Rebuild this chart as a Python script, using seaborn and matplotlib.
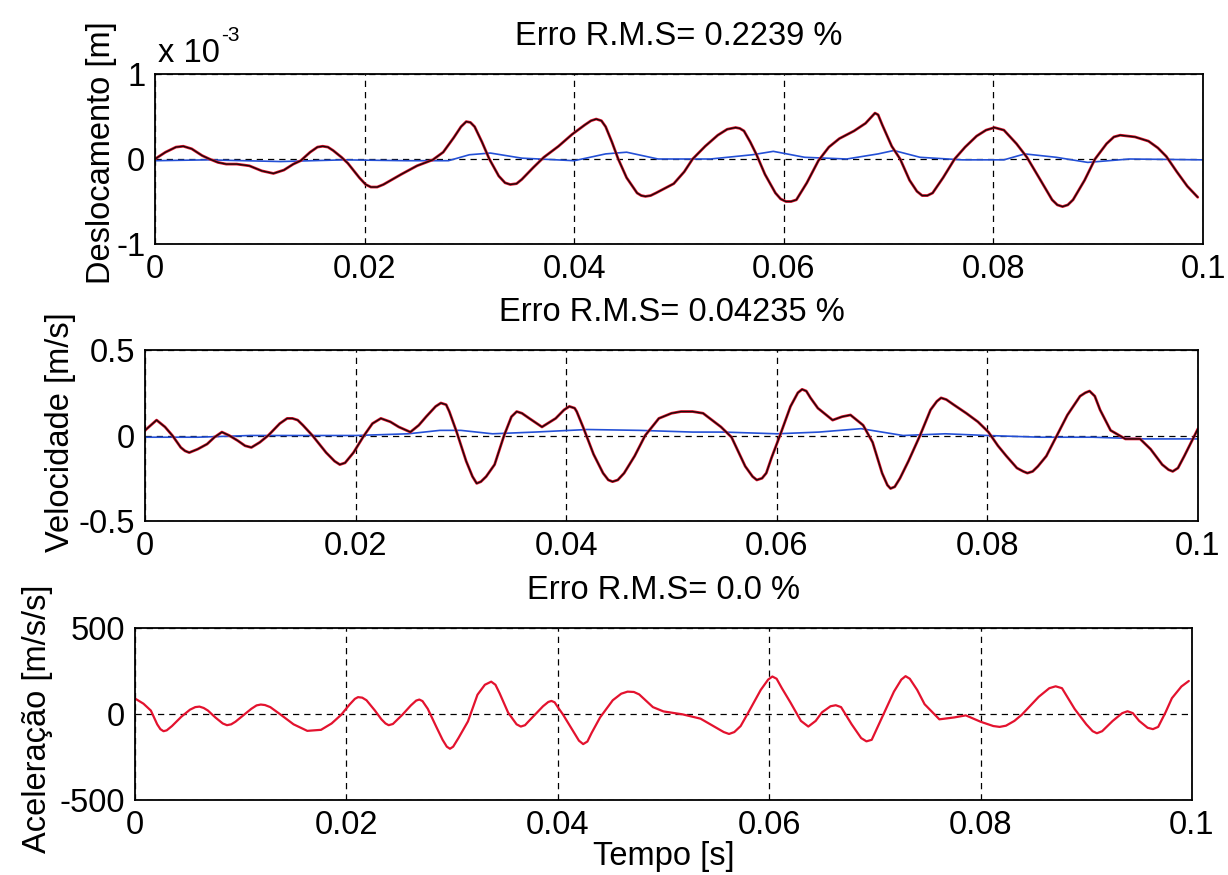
import numpy as np
import pandas as pd
import matplotlib
matplotlib.use("Agg")
import matplotlib.pyplot as plt
import seaborn as sns

# ---------------- data ----------------
# Displacement (units of 1e-3 m) -- reference (red) and estimate (black)
t_disp = [0.0000, 0.0010, 0.0020, 0.0027, 0.0035, 0.0045, 0.0052, 0.0060, 0.0068, 0.0078,
          0.0090, 0.0102, 0.0113, 0.0123, 0.0132, 0.0139, 0.0148, 0.0155, 0.0160, 0.0165, 0.0170, 0.0178,
          0.0184, 0.0195, 0.0201, 0.0206, 0.0212, 0.0218, 0.0235, 0.0250, 0.0265, 0.0275, 0.0285, 0.0292, 0.0297,
          0.0301, 0.0305, 0.0312, 0.0319, 0.0328, 0.0334, 0.0339, 0.0345, 0.0350, 0.0361, 0.0371, 0.0385, 0.0398,
          0.0410, 0.0416, 0.0421, 0.0426, 0.0430, 0.0436, 0.0442, 0.0450, 0.0460, 0.0464, 0.0468, 0.0473, 0.0478, 0.0495,
          0.0505, 0.0513, 0.0525, 0.0537, 0.0546, 0.0554, 0.0558, 0.0562, 0.0568, 0.0574, 0.0582, 0.0592, 0.0597,
          0.0602, 0.0607, 0.0612, 0.0622, 0.0633, 0.0643, 0.0653, 0.0667, 0.0678, 0.0684, 0.0687, 0.0690, 0.0694,
          0.0703, 0.0711, 0.0720, 0.0727, 0.0732, 0.0737, 0.0742, 0.0752, 0.0763, 0.0773, 0.0784, 0.0793, 0.0801,
          0.0810, 0.0822, 0.0832, 0.0845, 0.0856, 0.0861, 0.0866, 0.0871, 0.0876, 0.0887, 0.0897, 0.0908,
          0.0915, 0.0921, 0.0935, 0.0948, 0.0957, 0.0965, 0.0975, 0.0985, 0.0995]
disp_ref = [0.00, 0.08, 0.14, 0.15, 0.12, 0.04, 0.00, -0.04, -0.06, -0.06,
            -0.08, -0.14, -0.17, -0.13, -0.06, -0.02, 0.08, 0.14, 0.15, 0.14, 0.10, 0.02,
            -0.05, -0.22, -0.30, -0.33, -0.33, -0.30, -0.18, -0.08, -0.01, 0.08, 0.25, 0.38, 0.44,
            0.43, 0.38, 0.20, 0.00, -0.20, -0.28, -0.30, -0.29, -0.24, -0.10, 0.02, 0.15, 0.29,
            0.40, 0.45, 0.47, 0.45, 0.38, 0.20, 0.00, -0.22, -0.40, -0.43, -0.44, -0.43, -0.40, -0.29,
            -0.15, 0.00, 0.15, 0.28, 0.35, 0.37, 0.36, 0.33, 0.20, 0.05, -0.18, -0.40, -0.47,
            -0.50, -0.50, -0.48, -0.28, -0.02, 0.14, 0.24, 0.33, 0.42, 0.50, 0.54, 0.52, 0.40,
            0.15, 0.00, -0.25, -0.38, -0.43, -0.43, -0.40, -0.22, 0.00, 0.14, 0.27, 0.34, 0.37,
            0.34, 0.18, 0.02, -0.25, -0.48, -0.54, -0.56, -0.54, -0.48, -0.25, 0.00, 0.18,
            0.26, 0.28, 0.26, 0.21, 0.13, 0.03, -0.15, -0.32, -0.45]
disp_est = list(disp_ref)
# Displacement, blue curve
t_disp_b = [0.000, 0.005, 0.012, 0.018, 0.024, 0.028, 0.030, 0.032, 0.035, 0.040,
            0.043, 0.045, 0.048, 0.053, 0.057, 0.059, 0.062, 0.066, 0.069, 0.0705,
            0.073, 0.077, 0.081, 0.083, 0.086, 0.089, 0.093, 0.100]
disp_blue = [-0.02, -0.01, -0.03, -0.01, -0.02, -0.02, 0.05, 0.07, 0.01, -0.02,
             0.06, 0.08, 0.00, 0.00, 0.05, 0.09, 0.02, 0.00, 0.06, 0.10,
             0.02, -0.01, -0.01, 0.06, 0.02, -0.04, 0.00, -0.01]

# Velocity (m/s)
t_vel = [0.0000, 0.0011, 0.0019, 0.0026, 0.0034, 0.0038, 0.0042, 0.0046, 0.0050, 0.0059, 0.0066, 0.0073,
         0.0080, 0.0088, 0.0095, 0.0101, 0.0109, 0.0117, 0.0128, 0.0135, 0.0140, 0.0145, 0.0150, 0.0159, 0.0172,
         0.0180, 0.0185, 0.0190, 0.0198, 0.0208, 0.0216, 0.0224, 0.0233, 0.0241, 0.0252, 0.0260, 0.0267,
         0.0276, 0.0281, 0.0286, 0.0289, 0.0296, 0.0305, 0.0311, 0.0315, 0.0319, 0.0324, 0.0332, 0.0341, 0.0348, 0.0353, 0.0358, 0.0365,
         0.0377, 0.0390, 0.0398, 0.0403, 0.0408, 0.0410, 0.0416, 0.0426, 0.0435, 0.0440, 0.0444, 0.0449, 0.0455, 0.0465,
         0.0475, 0.0488, 0.0500, 0.0509, 0.0520, 0.0530, 0.0547, 0.0557, 0.0570, 0.0577, 0.0581, 0.0586, 0.0590, 0.0595,
         0.0603, 0.0613, 0.0620, 0.0624, 0.0628, 0.0632, 0.0639, 0.0653, 0.0662, 0.0670, 0.0682, 0.0691,
         0.0700, 0.0705, 0.0708, 0.0712, 0.0717, 0.0725, 0.0736, 0.0746, 0.0752, 0.0756, 0.0761, 0.0768, 0.0780, 0.0791,
         0.0801, 0.0810, 0.0818, 0.0828, 0.0834, 0.0838, 0.0843, 0.0848, 0.0856, 0.0866, 0.0876, 0.0888,
         0.0893, 0.0897, 0.0902, 0.0907, 0.0917, 0.0931, 0.0945, 0.0955, 0.0966, 0.0972, 0.0976, 0.0981, 0.0987, 0.1000]
vel_ref = [0.03, 0.09, 0.05, 0.00, -0.07, -0.09, -0.10, -0.09, -0.08, -0.05, -0.01, 0.02,
           0.00, -0.03, -0.06, -0.07, -0.04, 0.00, 0.07, 0.10, 0.10, 0.09, 0.06, 0.00, -0.10,
           -0.15, -0.17, -0.16, -0.10, 0.00, 0.07, 0.10, 0.08, 0.05, 0.02, 0.06, 0.11,
           0.17, 0.19, 0.18, 0.14, 0.02, -0.15, -0.24, -0.28, -0.27, -0.24, -0.17, 0.00, 0.11, 0.14, 0.13, 0.10,
           0.05, 0.10, 0.15, 0.17, 0.16, 0.14, 0.05, -0.11, -0.22, -0.26, -0.27, -0.26, -0.22, -0.12,
           0.00, 0.10, 0.13, 0.14, 0.14, 0.13, 0.05, -0.01, -0.18, -0.24, -0.26, -0.25, -0.22, -0.13,
           0.00, 0.17, 0.25, 0.27, 0.26, 0.22, 0.16, 0.09, 0.11, 0.12, 0.06, -0.04,
           -0.22, -0.29, -0.31, -0.30, -0.25, -0.15, 0.00, 0.15, 0.20, 0.22, 0.21, 0.18, 0.13, 0.08,
           0.02, -0.06, -0.12, -0.19, -0.21, -0.22, -0.21, -0.18, -0.12, 0.00, 0.12, 0.23,
           0.25, 0.26, 0.23, 0.15, 0.03, -0.02, -0.02, -0.08, -0.17, -0.20, -0.21, -0.19, -0.12, 0.04]
vel_est = list(vel_ref)
t_vel_b = [0.000, 0.005, 0.010, 0.015, 0.020, 0.025, 0.028, 0.030, 0.033, 0.037,
           0.042, 0.047, 0.052, 0.055, 0.060, 0.064, 0.068, 0.072, 0.076, 0.080,
           0.085, 0.090, 0.095, 0.100]
vel_blue = [-0.01, -0.01, 0.00, 0.00, 0.00, 0.01, 0.03, 0.03, 0.01, 0.02,
            0.035, 0.03, 0.02, 0.02, 0.01, 0.02, 0.04, 0.00, 0.01, 0.00,
            -0.01, -0.01, -0.02, -0.02]

# Acceleration (m/s/s)
t_acc = [0.0000, 0.0008, 0.0015, 0.0021, 0.0024, 0.0027, 0.0030, 0.0035, 0.0044, 0.0052, 0.0057, 0.0061, 0.0065, 0.0069,
         0.0076, 0.0083, 0.0087, 0.0091, 0.0095, 0.0102, 0.0110, 0.0115, 0.0119, 0.0123, 0.0128, 0.0137, 0.0150, 0.0163,
         0.0176, 0.0186, 0.0195, 0.0203, 0.0208, 0.0211, 0.0215, 0.0219, 0.0227, 0.0233, 0.0237, 0.0240, 0.0244, 0.0247,
         0.0253, 0.0261, 0.0266, 0.0269, 0.0272, 0.0277, 0.0285, 0.0291, 0.0295, 0.0298, 0.0301, 0.0306, 0.0315, 0.0324,
         0.0331, 0.0337, 0.0341, 0.0345, 0.0353, 0.0361, 0.0365, 0.0369, 0.0372, 0.0379, 0.0386, 0.0391, 0.0394, 0.0397, 0.0400, 0.0405,
         0.0415, 0.0420, 0.0424, 0.0428, 0.0432, 0.0440, 0.0452, 0.0460, 0.0466, 0.0472, 0.0477, 0.0490, 0.0500, 0.0518,
         0.0535, 0.0550, 0.0557, 0.0562, 0.0567, 0.0573, 0.0580, 0.0592, 0.0599, 0.0603, 0.0607, 0.0612, 0.0620, 0.0630, 0.0637,
         0.0644, 0.0650, 0.0658, 0.0663, 0.0668, 0.0678, 0.0687, 0.0692, 0.0697, 0.0700, 0.0708, 0.0718, 0.0725, 0.0729, 0.0733, 0.0740, 0.0747,
         0.0761, 0.0775, 0.0786, 0.0800, 0.0812, 0.0818, 0.0824, 0.0832, 0.0839, 0.0855, 0.0865, 0.0871, 0.0877, 0.0882,
         0.0889, 0.0900, 0.0906, 0.0910, 0.0915, 0.0925, 0.0934, 0.0939, 0.0944, 0.0950, 0.0958, 0.0963, 0.0968, 0.0975, 0.0981, 0.0990, 0.0997]
acc_ref = [90, 60, 20, -60, -88, -100, -95, -70, -15, 25, 40, 43, 35, 20,
           -20, -55, -65, -60, -45, -10, 30, 50, 55, 52, 40, 0, -60, -98,
           -92, -55, -5, 55, 88, 98, 95, 80, 20, -30, -55, -65, -58, -40,
           -4, 50, 78, 84, 75, 30, -74, -150, -190, -202, -190, -140, -43, 112,
           170, 188, 170, 120, 8, -60, -73, -65, -45, 0, 45, 70, 76, 68, 40, -4,
           -104, -155, -175, -160, -110, -20, 80, 118, 130, 128, 114, 40, 15, -2,
           -27, -80, -105, -116, -105, -70, 6, 140, 200, 218, 205, 150, 68, -40, -73,
           -40, 10, 45, 51, 40, -60, -140, -159, -150, -110, -4, 130, 200, 220, 205, 140, 57,
           -31, -20, -8, -45, -70, -75, -68, -40, -4, 100, 150, 161, 150, 100,
           29, -60, -100, -112, -100, -40, 5, 16, 5, -40, -80, -88, -75, 10, 92, 160, 192]

titles = ["Erro R.M.S= 0.2239 %", "Erro R.M.S= 0.04235 %", "Erro R.M.S= 0.0 %"]
ylabels = ["Deslocamento [m]", "Velocidade [m/s]", "Aceleração [m/s/s]"]
xlabel = "Tempo [s]"
x_ticks = [0, 0.02, 0.04, 0.06, 0.08, 0.1]
x_ticklabels = ["0", "0.02", "0.04", "0.06", "0.08", "0.1"]
y_ticks = [[-1, 0, 1], [-0.5, 0, 0.5], [-500, 0, 500]]
y_ticklabels = [["-1", "0", "1"], ["-0.5", "0", "0.5"], ["-500", "0", "500"]]

# ---------------- style ----------------
sns.set_theme(style="white")
plt.rcParams["font.family"] = ["Liberation Sans", "DejaVu Sans"]
plt.rcParams["axes.unicode_minus"] = False

RED = "#e3122e"
BLUE = "#2450d6"
FS = 23.5

fig = plt.figure(figsize=(12.28, 8.75), dpi=100)
W, H = 1228.0, 875.0
boxes = [(155, 1203, 74, 244), (145, 1198, 350, 521), (135, 1192, 628, 800)]
axes = []
for (l, r, t, b) in boxes:
    axes.append(fig.add_axes([l / W, 1 - b / H, (r - l) / W, (b - t) / H]))

series = [
    (t_disp, disp_ref, disp_est, t_disp_b, disp_blue),
    (t_vel, vel_ref, vel_est, t_vel_b, vel_blue),
    (t_acc, acc_ref, None, None, None),
]
label_x = [-0.036, -0.066, -0.078]
label_y = [0.54, 0.52, 0.47]

for i, ax in enumerate(axes):
    tr, ref, est, tb, blue = series[i]
    ax.grid(True, color="black", linestyle=(0, (5, 4)), linewidth=0.9)
    ax.set_axisbelow(True)
    if blue is not None:
        sns.lineplot(x=tb, y=blue, ax=ax, color=BLUE, linewidth=1.2, sort=False,
                     estimator=None)
    sns.lineplot(x=tr, y=ref, ax=ax, color=RED, linewidth=2.0 if est is not None else 1.6,
                 sort=False, estimator=None)
    if est is not None:
        sns.lineplot(x=tr, y=est, ax=ax, color="#1a0a0a", linewidth=1.0, sort=False,
                     estimator=None)
    ax.set_xlim(0, 0.1)
    lo, hi = y_ticks[i][0], y_ticks[i][-1]
    ax.set_ylim(lo, hi)
    ax.set_xticks(x_ticks)
    ax.set_xticklabels(x_ticklabels)
    ax.set_yticks(y_ticks[i])
    ax.set_yticklabels(y_ticklabels[i])
    ax.tick_params(axis="both", length=0, labelsize=FS, colors="black")
    ax.tick_params(axis="x", pad=7)
    ax.tick_params(axis="y", pad=7)
    for s in ax.spines.values():
        s.set_color("black")
        s.set_linewidth(1.3)
        s.set_visible(True)
    ax.set_title(titles[i], fontsize=FS, pad=21, color="black")
    ax.set_ylabel(ylabels[i], fontsize=FS, color="black")
    ax.yaxis.set_label_coords(label_x[i], label_y[i])
    ax.set_xlabel("")

axes[2].set_xlabel(xlabel, fontsize=FS, labelpad=0, color="black")
# MATLAB-style exponent label above the top axes
fig.text(158 / W, 1 - 62 / H, "x 10", fontsize=FS, ha="left", va="baseline", color="black")
fig.text(221 / W, 1 - 41 / H, "-3", fontsize=15, ha="left", va="baseline", color="black")

fig.savefig("out.png", dpi=100, facecolor="white")
